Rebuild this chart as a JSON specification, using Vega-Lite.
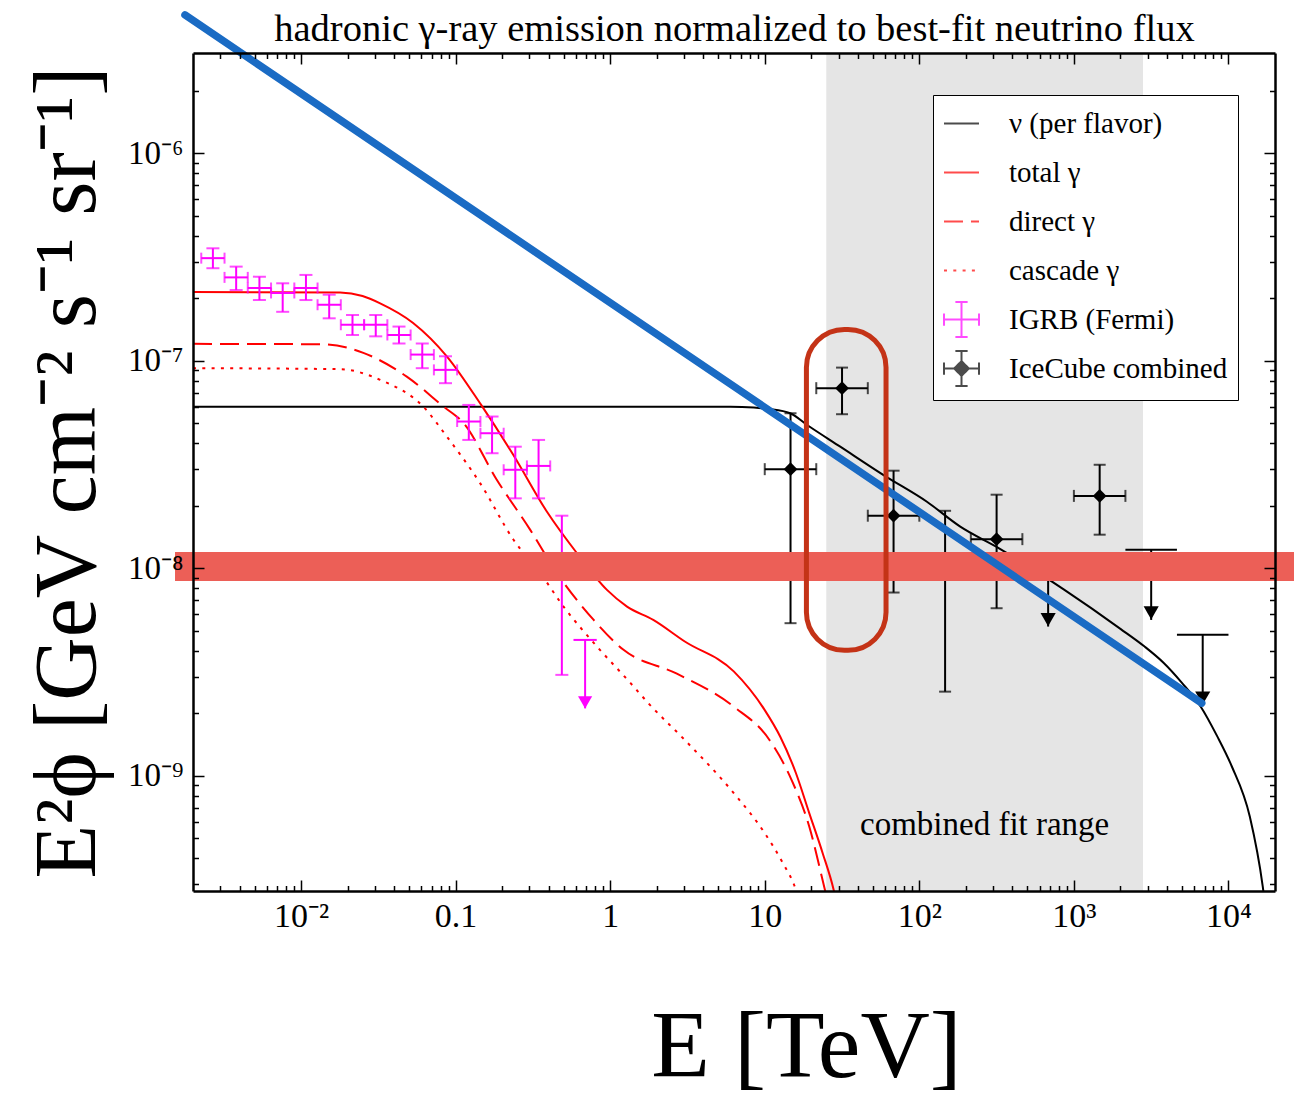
{
  "$schema": "https://vega.github.io/schema/vega-lite/v6.json",
  "width": 1082,
  "height": 838,
  "autosize": {"type": "none"},
  "padding": {"left": 193, "top": 53, "right": 19, "bottom": 208},
  "background": "white",
  "config": {"view": {"stroke": null}, "font": "Liberation Serif"},
  "datasets": {
    "nu": [
      {"E": 0.002, "v": 6.0e-8}, {"E": 1, "v": 6.0e-8}, {"E": 6, "v": 6.0e-8}, {"E": 8.5, "v": 5.95e-8},
      {"E": 10.6, "v": 5.85e-8}, {"E": 14.6, "v": 5.58e-8}, {"E": 18.8, "v": 4.9e-8}, {"E": 30.8, "v": 3.85e-8},
      {"E": 58.7, "v": 2.81e-8}, {"E": 112, "v": 2.09e-8}, {"E": 184, "v": 1.585e-8}, {"E": 326, "v": 1.25e-8},
      {"E": 859, "v": 7.9e-9}, {"E": 2000, "v": 5.1e-9}, {"E": 2853, "v": 4.2e-9}, {"E": 3800, "v": 3.5e-9},
      {"E": 5000, "v": 2.8e-9}, {"E": 6620, "v": 2.15e-9}, {"E": 8450, "v": 1.55e-9}, {"E": 10500, "v": 1.11e-9},
      {"E": 13740, "v": 6.35e-10}, {"E": 16670, "v": 2.92e-10}, {"E": 17500, "v": 2.2e-10}
    ],
    "total": [
      {"E": 0.002, "v": 2.14e-7}, {"E": 0.0179, "v": 2.13e-7}, {"E": 0.025, "v": 2.05e-7}, {"E": 0.0325, "v": 1.89e-7},
      {"E": 0.0531, "v": 1.52e-7}, {"E": 0.0877, "v": 1.05e-7}, {"E": 0.1463, "v": 6.12e-8}, {"E": 0.2359, "v": 3.52e-8},
      {"E": 0.39, "v": 1.87e-8}, {"E": 0.61, "v": 1.18e-8}, {"E": 0.953, "v": 7.86e-9}, {"E": 1.285, "v": 6.53e-9},
      {"E": 1.9, "v": 5.63e-9}, {"E": 3.04, "v": 4.43e-9}, {"E": 6.3, "v": 3.18e-9}, {"E": 10, "v": 2.07e-9},
      {"E": 12.6, "v": 1.54e-9}, {"E": 15.9, "v": 1.03e-9}, {"E": 19.4, "v": 6.6e-10}, {"E": 23.7, "v": 4.23e-10},
      {"E": 27.9, "v": 2.82e-10}, {"E": 30, "v": 2.2e-10}
    ],
    "direct": [
      {"E": 0.002, "v": 1.205e-7}, {"E": 0.0139, "v": 1.2e-7}, {"E": 0.0253, "v": 1.09e-7}, {"E": 0.0483, "v": 8.38e-8},
      {"E": 0.0834, "v": 6.01e-8}, {"E": 0.1125, "v": 5.0e-8}, {"E": 0.185, "v": 2.66e-8}, {"E": 0.304, "v": 1.53e-8},
      {"E": 0.453, "v": 9.46e-9}, {"E": 0.782, "v": 5.63e-9}, {"E": 1.22, "v": 4.04e-9}, {"E": 2.7, "v": 3.1e-9},
      {"E": 6.3, "v": 2.15e-9}, {"E": 10.7, "v": 1.49e-9}, {"E": 14.9, "v": 9.55e-10}, {"E": 19.4, "v": 5.69e-10},
      {"E": 24.5, "v": 2.82e-10}, {"E": 27, "v": 2.1e-10}
    ],
    "cascade": [
      {"E": 0.002, "v": 9.2e-8}, {"E": 0.0179, "v": 9.1e-8}, {"E": 0.0325, "v": 8.08e-8}, {"E": 0.0617, "v": 6.01e-8},
      {"E": 0.0877, "v": 4.31e-8}, {"E": 0.144, "v": 2.57e-8}, {"E": 0.237, "v": 1.37e-8}, {"E": 0.353, "v": 9.46e-9},
      {"E": 0.499, "v": 6.53e-9}, {"E": 0.822, "v": 4.19e-9}, {"E": 1.35, "v": 2.8e-9}, {"E": 1.8, "v": 2.2e-9},
      {"E": 3.0, "v": 1.5e-9}, {"E": 6.3, "v": 8.24e-10}, {"E": 10, "v": 5.28e-10}, {"E": 13.1, "v": 3.79e-10},
      {"E": 15.9, "v": 2.82e-10}, {"E": 17, "v": 2.4e-10}
    ],
    "igrb": [
      {"E": 0.00269, "Elo": 0.002262, "Ehi": 0.003199, "v": 3.12e-7, "vlo": 2.79e-7, "vhi": 3.48e-7},
      {"E": 0.003804, "Elo": 0.003199, "Ehi": 0.004522, "v": 2.52e-7, "vlo": 2.19e-7, "vhi": 2.84e-7},
      {"E": 0.005379, "Elo": 0.004522, "Ehi": 0.006397, "v": 2.24e-7, "vlo": 1.96e-7, "vhi": 2.54e-7},
      {"E": 0.007608, "Elo": 0.006397, "Ehi": 0.009048, "v": 2.12e-7, "vlo": 1.72e-7, "vhi": 2.36e-7},
      {"E": 0.010758, "Elo": 0.009048, "Ehi": 0.01279, "v": 2.24e-7, "vlo": 1.96e-7, "vhi": 2.59e-7},
      {"E": 0.01521, "Elo": 0.01279, "Ehi": 0.01809, "v": 1.86e-7, "vlo": 1.6e-7, "vhi": 2.08e-7},
      {"E": 0.02152, "Elo": 0.01809, "Ehi": 0.02559, "v": 1.49e-7, "vlo": 1.33e-7, "vhi": 1.66e-7},
      {"E": 0.03043, "Elo": 0.02559, "Ehi": 0.03618, "v": 1.49e-7, "vlo": 1.31e-7, "vhi": 1.66e-7},
      {"E": 0.04303, "Elo": 0.03618, "Ehi": 0.05117, "v": 1.33e-7, "vlo": 1.21e-7, "vhi": 1.46e-7},
      {"E": 0.06085, "Elo": 0.05117, "Ehi": 0.07236, "v": 1.07e-7, "vlo": 9.2e-8, "vhi": 1.21e-7},
      {"E": 0.08604, "Elo": 0.07236, "Ehi": 0.1023, "v": 9.03e-8, "vlo": 7.79e-8, "vhi": 1.05e-7},
      {"E": 0.1217, "Elo": 0.1023, "Ehi": 0.1447, "v": 5.09e-8, "vlo": 4.15e-8, "vhi": 6.12e-8},
      {"E": 0.1721, "Elo": 0.1447, "Ehi": 0.2046, "v": 4.47e-8, "vlo": 3.58e-8, "vhi": 5.38e-8},
      {"E": 0.2433, "Elo": 0.2046, "Ehi": 0.2893, "v": 2.98e-8, "vlo": 2.17e-8, "vhi": 3.85e-8},
      {"E": 0.3441, "Elo": 0.2893, "Ehi": 0.4093, "v": 3.11e-8, "vlo": 2.17e-8, "vhi": 4.15e-8},
      {"E": 0.4867, "Elo": 0.4093, "Ehi": 0.5788, "v": 1.05e-8, "vlo": 3.06e-9, "vhi": 1.79e-8}
    ],
    "igrb_ul": [
      {"E": 0.6883, "Elo": 0.5788, "Ehi": 0.8185, "v": 4.51e-9, "vtip": 2.11e-9}
    ],
    "ice": [
      {"E": 14.68, "Elo": 10, "Ehi": 21.54, "v": 3.0e-8, "vlo": 5.43e-9, "vhi": 5.58e-8},
      {"E": 31.62, "Elo": 21.54, "Ehi": 46.42, "v": 7.37e-8, "vlo": 5.52e-8, "vhi": 9.26e-8},
      {"E": 68.13, "Elo": 46.42, "Ehi": 100, "v": 1.79e-8, "vlo": 7.63e-9, "vhi": 2.95e-8},
      {"E": 146.8, "Elo": 100, "Ehi": 215.4, "v": 1.0e-8, "vlo": 2.54e-9, "vhi": 1.89e-8},
      {"E": 316.2, "Elo": 215.4, "Ehi": 464.2, "v": 1.38e-8, "vlo": 6.41e-9, "vhi": 2.26e-8},
      {"E": 1468, "Elo": 1000, "Ehi": 2154, "v": 2.23e-8, "vlo": 1.45e-8, "vhi": 3.15e-8}
    ],
    "ice_ul": [
      {"E": 681.3, "Elo": 464.2, "Ehi": 1000, "v": 1.14e-8, "vtip": 5.23e-9},
      {"E": 3162, "Elo": 2154, "Ehi": 4642, "v": 1.225e-8, "vtip": 5.63e-9},
      {"E": 6813, "Elo": 4642, "Ehi": 10000, "v": 4.77e-9, "vtip": 2.19e-9}
    ],
    "fitrange": [{"Elo": 25, "Ehi": 2800, "Ec": 264.6, "vt": 5.2e-10, "label": "combined fit range"}],
    "legend": [
      {"series": "ν (per flavor)"}, {"series": "total γ"}, {"series": "direct γ"},
      {"series": "cascade γ"}, {"series": "IGRB (Fermi)"}, {"series": "IceCube combined"}
    ],
    "band": [{"E": 0.00153, "v": 1.02e-8}, {"E": 27000, "v": 1.02e-8}],
    "blue": [{"E": 0.001775, "v": 4.64e-6}, {"E": 6714, "v": 2.236e-9}],
    "loop": [{"E1": 18.6, "E2": 60.9, "v1": 1.415e-7, "v2": 4.02e-9}]
  },
  "resolve": {"axis": {"x": "independent", "y": "independent"}},
  "layer": [
    {
      "data": {"name": "fitrange"},
      "mark": {"type": "rect", "color": "#e5e5e5"},
      "encoding": {
        "x": {"field": "Elo", "type": "quantitative", "scale": {"type": "log", "domain": [0.002, 20000], "nice": false}, "axis": null},
        "x2": {"field": "Ehi"}
      }
    },
    {
      "data": {"name": "fitrange"},
      "mark": {"type": "text", "font": "Liberation Serif", "fontSize": 33, "baseline": "alphabetic", "align": "center", "color": "black"},
      "encoding": {
        "x": {"field": "Ec", "type": "quantitative", "scale": {"type": "log", "domain": [0.002, 20000], "nice": false}, "axis": null},
        "y": {"field": "vt", "type": "quantitative", "scale": {"type": "log", "domain": [2.78e-10, 3.04e-6], "nice": false}, "axis": null},
        "text": {"field": "label"}
      }
    },
    {
      "data": {"name": "nu"},
      "mark": {"type": "line", "color": "black", "strokeWidth": 2, "clip": true, "interpolate": "monotone"},
      "encoding": {
        "x": {"field": "E", "type": "quantitative", "scale": {"type": "log", "domain": [0.002, 20000], "nice": false},
          "axis": {"orient": "bottom", "zindex": 1, "grid": false,
            "values": [0.003,0.004,0.005,0.006,0.007,0.008,0.009,0.01,0.02,0.03,0.04,0.05,0.06,0.07,0.08,0.09,0.1,0.2,0.3,0.4,0.5,0.6,0.7,0.8,0.9,1,2,3,4,5,6,7,8,9,10,20,30,40,50,60,70,80,90,100,200,300,400,500,600,700,800,900,1000,2000,3000,4000,5000,6000,7000,8000,9000,10000],
            "labelExpr": "abs(log(datum.value)/LN10 - round(log(datum.value)/LN10)) > 0.001 ? '' : round(log(datum.value)/LN10) == -2 ? '10⁻²' : round(log(datum.value)/LN10) == -1 ? '0.1' : round(log(datum.value)/LN10) == 0 ? '1' : round(log(datum.value)/LN10) == 1 ? '10' : round(log(datum.value)/LN10) == 2 ? '10²' : round(log(datum.value)/LN10) == 3 ? '10³' : '10⁴'",
            "tickSize": {"condition": {"test": "abs(log(datum.value)/LN10 - round(log(datum.value)/LN10)) < 0.001", "value": -11}, "value": -5.5},
            "tickColor": "black", "tickWidth": 1.5, "domainColor": "black", "domainWidth": 2.5,
            "labelFont": "Liberation Serif", "labelFontSize": 34, "labelColor": "black", "labelAngle": 0,
            "labelBaseline": "alphabetic", "labelPadding": 46, "labelFlush": false, "labelOverlap": false,
            "title": "E [TeV]", "titleFont": "Liberation Serif", "titleFontSize": 96, "titleFontWeight": "normal", "titleColor": "black",
            "titleX": 613, "titleY": 185, "titleBaseline": "alphabetic", "titleAlign": "center"}},
        "y": {"field": "v", "type": "quantitative", "scale": {"type": "log", "domain": [2.78e-10, 3.04e-6], "nice": false},
          "axis": {"orient": "left", "zindex": 1, "grid": false,
            "values": [3e-10,4e-10,5e-10,6e-10,7e-10,8e-10,9e-10,1e-9,2e-9,3e-9,4e-9,5e-9,6e-9,7e-9,8e-9,9e-9,1e-8,2e-8,3e-8,4e-8,5e-8,6e-8,7e-8,8e-8,9e-8,1e-7,2e-7,3e-7,4e-7,5e-7,6e-7,7e-7,8e-7,9e-7,1e-6,2e-6],
            "labelExpr": "abs(log(datum.value)/LN10 - round(log(datum.value)/LN10)) > 0.001 ? '' : round(log(datum.value)/LN10) == -9 ? '10⁻⁹' : round(log(datum.value)/LN10) == -8 ? '10⁻⁸' : round(log(datum.value)/LN10) == -7 ? '10⁻⁷' : '10⁻⁶'",
            "tickSize": {"condition": {"test": "abs(log(datum.value)/LN10 - round(log(datum.value)/LN10)) < 0.001", "value": -11}, "value": -5.5},
            "tickColor": "black", "tickWidth": 1.5, "domainColor": "black", "domainWidth": 2.5,
            "labelFont": "Liberation Serif", "labelFontSize": 33, "labelColor": "black",
            "labelPadding": 21, "labelFlush": false, "labelOverlap": false,
            "title": "E²ϕ [GeV cm⁻² s⁻¹ sr⁻¹]", "titleFont": "Liberation Serif", "titleFontSize": 88, "titleFontWeight": "normal", "titleColor": "black",
            "titleX": -99, "titleY": 419, "titleBaseline": "alphabetic", "titleAngle": 270, "titleAlign": "center"}}
      }
    },
    {
      "data": {"name": "total"},
      "mark": {"type": "line", "color": "#ff0000", "strokeWidth": 2, "clip": true, "interpolate": "monotone"},
      "encoding": {
        "x": {"field": "E", "type": "quantitative", "scale": {"type": "log", "domain": [0.002, 20000], "nice": false},
          "axis": {"orient": "top", "zindex": 1, "grid": false, "labels": false,
            "title": "hadronic γ-ray emission normalized to best-fit neutrino flux", "titleFont": "Liberation Serif", "titleFontSize": 38.5, "titleFontWeight": "normal", "titleColor": "black",
            "titleX": 541, "titleY": -13, "titleBaseline": "alphabetic", "titleAlign": "center", "titleAngle": 0,
            "values": [0.003,0.004,0.005,0.006,0.007,0.008,0.009,0.01,0.02,0.03,0.04,0.05,0.06,0.07,0.08,0.09,0.1,0.2,0.3,0.4,0.5,0.6,0.7,0.8,0.9,1,2,3,4,5,6,7,8,9,10,20,30,40,50,60,70,80,90,100,200,300,400,500,600,700,800,900,1000,2000,3000,4000,5000,6000,7000,8000,9000,10000],
            "tickSize": {"condition": {"test": "abs(log(datum.value)/LN10 - round(log(datum.value)/LN10)) < 0.001", "value": -11}, "value": -5.5},
            "tickColor": "black", "tickWidth": 1.5, "domainColor": "black", "domainWidth": 2.5}},
        "y": {"field": "v", "type": "quantitative", "scale": {"type": "log", "domain": [2.78e-10, 3.04e-6], "nice": false},
          "axis": {"orient": "right", "zindex": 1, "grid": false, "labels": false, "title": null,
            "values": [3e-10,4e-10,5e-10,6e-10,7e-10,8e-10,9e-10,1e-9,2e-9,3e-9,4e-9,5e-9,6e-9,7e-9,8e-9,9e-9,1e-8,2e-8,3e-8,4e-8,5e-8,6e-8,7e-8,8e-8,9e-8,1e-7,2e-7,3e-7,4e-7,5e-7,6e-7,7e-7,8e-7,9e-7,1e-6,2e-6],
            "tickSize": {"condition": {"test": "abs(log(datum.value)/LN10 - round(log(datum.value)/LN10)) < 0.001", "value": -11}, "value": -5.5},
            "tickColor": "black", "tickWidth": 1.5, "domainColor": "black", "domainWidth": 2.5}}
      }
    },
    {
      "data": {"name": "direct"},
      "mark": {"type": "line", "color": "#ff0000", "strokeWidth": 2, "strokeDash": [19, 8], "clip": true, "interpolate": "monotone"},
      "encoding": {
        "x": {"field": "E", "type": "quantitative", "scale": {"type": "log", "domain": [0.002, 20000], "nice": false}, "axis": null},
        "y": {"field": "v", "type": "quantitative", "scale": {"type": "log", "domain": [2.78e-10, 3.04e-6], "nice": false}, "axis": null}
      }
    },
    {
      "data": {"name": "cascade"},
      "mark": {"type": "line", "color": "#ff0000", "strokeWidth": 2, "strokeDash": [3, 6.3], "clip": true, "interpolate": "monotone"},
      "encoding": {
        "x": {"field": "E", "type": "quantitative", "scale": {"type": "log", "domain": [0.002, 20000], "nice": false}, "axis": null},
        "y": {"field": "v", "type": "quantitative", "scale": {"type": "log", "domain": [2.78e-10, 3.04e-6], "nice": false}, "axis": null}
      }
    },
    {
      "data": {"name": "igrb"},
      "mark": {"type": "rule", "color": "#ff00ff", "strokeWidth": 2},
      "encoding": {
        "x": {"field": "E", "type": "quantitative", "scale": {"type": "log", "domain": [0.002, 20000], "nice": false}, "axis": null},
        "y": {"field": "vlo", "type": "quantitative", "scale": {"type": "log", "domain": [2.78e-10, 3.04e-6], "nice": false}, "axis": null},
        "y2": {"field": "vhi"}
      }
    },
    {
      "data": {"name": "igrb"},
      "mark": {"type": "rule", "color": "#ff00ff", "strokeWidth": 2},
      "encoding": {
        "x": {"field": "Elo", "type": "quantitative", "scale": {"type": "log", "domain": [0.002, 20000], "nice": false}, "axis": null},
        "x2": {"field": "Ehi"},
        "y": {"field": "v", "type": "quantitative", "scale": {"type": "log", "domain": [2.78e-10, 3.04e-6], "nice": false}, "axis": null}
      }
    },
    {
      "data": {"name": "igrb"},
      "transform": [{"fold": ["vlo", "vhi"], "as": ["k", "vcap"]}],
      "mark": {"type": "tick", "orient": "horizontal", "color": "#ff00ff", "size": 13, "thickness": 2},
      "encoding": {
        "x": {"field": "E", "type": "quantitative", "scale": {"type": "log", "domain": [0.002, 20000], "nice": false}, "axis": null},
        "y": {"field": "vcap", "type": "quantitative", "scale": {"type": "log", "domain": [2.78e-10, 3.04e-6], "nice": false}, "axis": null}
      }
    },
    {
      "data": {"name": "igrb"},
      "transform": [{"fold": ["Elo", "Ehi"], "as": ["k", "Ecap"]}],
      "mark": {"type": "tick", "orient": "vertical", "color": "#ff00ff", "size": 11, "thickness": 2},
      "encoding": {
        "x": {"field": "Ecap", "type": "quantitative", "scale": {"type": "log", "domain": [0.002, 20000], "nice": false}, "axis": null},
        "y": {"field": "v", "type": "quantitative", "scale": {"type": "log", "domain": [2.78e-10, 3.04e-6], "nice": false}, "axis": null}
      }
    },
    {
      "data": {"name": "igrb_ul"},
      "mark": {"type": "rule", "color": "#ff00ff", "strokeWidth": 2},
      "encoding": {
        "x": {"field": "E", "type": "quantitative", "scale": {"type": "log", "domain": [0.002, 20000], "nice": false}, "axis": null},
        "y": {"field": "v", "type": "quantitative", "scale": {"type": "log", "domain": [2.78e-10, 3.04e-6], "nice": false}, "axis": null},
        "y2": {"field": "vtip"}
      }
    },
    {
      "data": {"name": "igrb_ul"},
      "mark": {"type": "rule", "color": "#ff00ff", "strokeWidth": 2},
      "encoding": {
        "x": {"field": "Elo", "type": "quantitative", "scale": {"type": "log", "domain": [0.002, 20000], "nice": false}, "axis": null},
        "x2": {"field": "Ehi"},
        "y": {"field": "v", "type": "quantitative", "scale": {"type": "log", "domain": [2.78e-10, 3.04e-6], "nice": false}, "axis": null}
      }
    },
    {
      "data": {"name": "igrb_ul"},
      "mark": {"type": "point", "shape": "triangle-down", "filled": true, "color": "#ff00ff", "size": 200, "opacity": 1, "yOffset": -6},
      "encoding": {
        "x": {"field": "E", "type": "quantitative", "scale": {"type": "log", "domain": [0.002, 20000], "nice": false}, "axis": null},
        "y": {"field": "vtip", "type": "quantitative", "scale": {"type": "log", "domain": [2.78e-10, 3.04e-6], "nice": false}, "axis": null}
      }
    },
    {
      "data": {"name": "ice"},
      "mark": {"type": "rule", "color": "black", "strokeWidth": 2},
      "encoding": {
        "x": {"field": "E", "type": "quantitative", "scale": {"type": "log", "domain": [0.002, 20000], "nice": false}, "axis": null},
        "y": {"field": "vlo", "type": "quantitative", "scale": {"type": "log", "domain": [2.78e-10, 3.04e-6], "nice": false}, "axis": null},
        "y2": {"field": "vhi"}
      }
    },
    {
      "data": {"name": "ice"},
      "mark": {"type": "rule", "color": "black", "strokeWidth": 2},
      "encoding": {
        "x": {"field": "Elo", "type": "quantitative", "scale": {"type": "log", "domain": [0.002, 20000], "nice": false}, "axis": null},
        "x2": {"field": "Ehi"},
        "y": {"field": "v", "type": "quantitative", "scale": {"type": "log", "domain": [2.78e-10, 3.04e-6], "nice": false}, "axis": null}
      }
    },
    {
      "data": {"name": "ice"},
      "transform": [{"fold": ["vlo", "vhi"], "as": ["k", "vcap"]}],
      "mark": {"type": "tick", "orient": "horizontal", "color": "black", "size": 12, "thickness": 2},
      "encoding": {
        "x": {"field": "E", "type": "quantitative", "scale": {"type": "log", "domain": [0.002, 20000], "nice": false}, "axis": null},
        "y": {"field": "vcap", "type": "quantitative", "scale": {"type": "log", "domain": [2.78e-10, 3.04e-6], "nice": false}, "axis": null}
      }
    },
    {
      "data": {"name": "ice"},
      "transform": [{"fold": ["Elo", "Ehi"], "as": ["k", "Ecap"]}],
      "mark": {"type": "tick", "orient": "vertical", "color": "black", "size": 12, "thickness": 2},
      "encoding": {
        "x": {"field": "Ecap", "type": "quantitative", "scale": {"type": "log", "domain": [0.002, 20000], "nice": false}, "axis": null},
        "y": {"field": "v", "type": "quantitative", "scale": {"type": "log", "domain": [2.78e-10, 3.04e-6], "nice": false}, "axis": null}
      }
    },
    {
      "data": {"name": "ice"},
      "mark": {"type": "point", "shape": "diamond", "filled": true, "color": "black", "size": 190, "opacity": 1},
      "encoding": {
        "x": {"field": "E", "type": "quantitative", "scale": {"type": "log", "domain": [0.002, 20000], "nice": false}, "axis": null},
        "y": {"field": "v", "type": "quantitative", "scale": {"type": "log", "domain": [2.78e-10, 3.04e-6], "nice": false}, "axis": null}
      }
    },
    {
      "data": {"name": "ice_ul"},
      "mark": {"type": "rule", "color": "black", "strokeWidth": 2},
      "encoding": {
        "x": {"field": "E", "type": "quantitative", "scale": {"type": "log", "domain": [0.002, 20000], "nice": false}, "axis": null},
        "y": {"field": "v", "type": "quantitative", "scale": {"type": "log", "domain": [2.78e-10, 3.04e-6], "nice": false}, "axis": null},
        "y2": {"field": "vtip"}
      }
    },
    {
      "data": {"name": "ice_ul"},
      "mark": {"type": "rule", "color": "black", "strokeWidth": 2},
      "encoding": {
        "x": {"field": "Elo", "type": "quantitative", "scale": {"type": "log", "domain": [0.002, 20000], "nice": false}, "axis": null},
        "x2": {"field": "Ehi"},
        "y": {"field": "v", "type": "quantitative", "scale": {"type": "log", "domain": [2.78e-10, 3.04e-6], "nice": false}, "axis": null}
      }
    },
    {
      "data": {"name": "ice_ul"},
      "mark": {"type": "point", "shape": "triangle-down", "filled": true, "color": "black", "size": 230, "opacity": 1, "yOffset": -7},
      "encoding": {
        "x": {"field": "E", "type": "quantitative", "scale": {"type": "log", "domain": [0.002, 20000], "nice": false}, "axis": null},
        "y": {"field": "vtip", "type": "quantitative", "scale": {"type": "log", "domain": [2.78e-10, 3.04e-6], "nice": false}, "axis": null}
      }
    },
    {
      "data": {"name": "legend"},
      "mark": {"type": "point", "filled": false, "strokeWidth": 2, "clip": true},
      "encoding": {
        "x": {"datum": 0.0000001, "type": "quantitative", "scale": {"type": "log", "domain": [0.002, 20000], "nice": false}, "axis": null},
        "y": {"datum": 1e-12, "type": "quantitative", "scale": {"type": "log", "domain": [2.78e-10, 3.04e-6], "nice": false}, "axis": null},
        "color": {"field": "series", "type": "nominal",
          "scale": {"domain": ["ν (per flavor)", "total γ", "direct γ", "cascade γ", "IGRB (Fermi)", "IceCube combined"], "range": ["black", "#ff0000", "#ff0000", "#ff0000", "#ff00ff", "black"]},
          "legend": {"orient": "none", "legendX": 740, "legendY": 42, "title": null, "padding": 10, "strokeColor": "black", "fillColor": "white", "symbolSize": 1225, "symbolStrokeWidth": 2, "labelFont": "Liberation Serif", "labelFontSize": 29, "labelColor": "black", "labelOffset": 29, "labelLimit": 0, "rowPadding": 6}},
        "shape": {"field": "series", "type": "nominal",
          "scale": {"domain": ["ν (per flavor)", "total γ", "direct γ", "cascade γ", "IGRB (Fermi)", "IceCube combined"], "range": ["M-1,0L1,0M0,-1L0,-1M0,1L0,1", "M-1,0L1,0M0,-1L0,-1M0,1L0,1", "M-1,0L1,0M0,-1L0,-1M0,1L0,1", "M-1,0L1,0M0,-1L0,-1M0,1L0,1", "M-1,0L1,0M0,-1L0,1M-1,-0.35L-1,0.35M1,-0.35L1,0.35M-0.35,-1L0.35,-1M-0.35,1L0.35,1", "M-1,0L1,0M0,-1L0,1M-1,-0.35L-1,0.35M1,-0.35L1,0.35M-0.35,-1L0.35,-1M-0.35,1L0.35,1M-0.42,0L0,-0.42L0.42,0L0,0.42ZM-0.28,0L0,-0.28L0.28,0L0,0.28ZM-0.14,0L0,-0.14L0.14,0L0,0.14Z"]},
          "legend": {"orient": "none", "legendX": 740, "legendY": 42, "title": null, "padding": 10, "strokeColor": "black", "fillColor": "white", "symbolSize": 1225, "symbolStrokeWidth": 2, "labelFont": "Liberation Serif", "labelFontSize": 29, "labelColor": "black", "labelOffset": 29, "labelLimit": 0, "rowPadding": 6}},
        "strokeDash": {"field": "series", "type": "nominal",
          "scale": {"domain": ["ν (per flavor)", "total γ", "direct γ", "cascade γ", "IGRB (Fermi)", "IceCube combined"], "range": [[1, 0], [1, 0], [19, 8], [3, 6.3], [1, 0], [1, 0]]},
          "legend": {"orient": "none", "legendX": 740, "legendY": 42, "title": null, "padding": 10, "strokeColor": "black", "fillColor": "white", "symbolSize": 1225, "symbolStrokeWidth": 2, "labelFont": "Liberation Serif", "labelFontSize": 29, "labelColor": "black", "labelOffset": 29, "labelLimit": 0, "rowPadding": 6}}
      }
    },
    {
      "data": {"name": "band"},
      "mark": {"type": "line", "color": "#ec5f57", "strokeWidth": 29, "clip": false},
      "encoding": {
        "x": {"field": "E", "type": "quantitative", "scale": {"type": "log", "domain": [0.002, 20000], "nice": false}, "axis": null},
        "y": {"field": "v", "type": "quantitative", "scale": {"type": "log", "domain": [2.78e-10, 3.04e-6], "nice": false}, "axis": null}
      }
    },
    {
      "data": {"name": "blue"},
      "mark": {"type": "line", "color": "#1a6bc4", "strokeWidth": 7.5, "strokeCap": "round", "clip": false},
      "encoding": {
        "x": {"field": "E", "type": "quantitative", "scale": {"type": "log", "domain": [0.002, 20000], "nice": false}, "axis": null},
        "y": {"field": "v", "type": "quantitative", "scale": {"type": "log", "domain": [2.78e-10, 3.04e-6], "nice": false}, "axis": null}
      }
    },
    {
      "data": {"name": "loop"},
      "mark": {"type": "rect", "filled": false, "color": "#c43317", "strokeWidth": 5, "cornerRadius": 38},
      "encoding": {
        "x": {"field": "E1", "type": "quantitative", "scale": {"type": "log", "domain": [0.002, 20000], "nice": false}, "axis": null},
        "x2": {"field": "E2"},
        "y": {"field": "v1", "type": "quantitative", "scale": {"type": "log", "domain": [2.78e-10, 3.04e-6], "nice": false}, "axis": null},
        "y2": {"field": "v2"}
      }
    }
  ]
}
